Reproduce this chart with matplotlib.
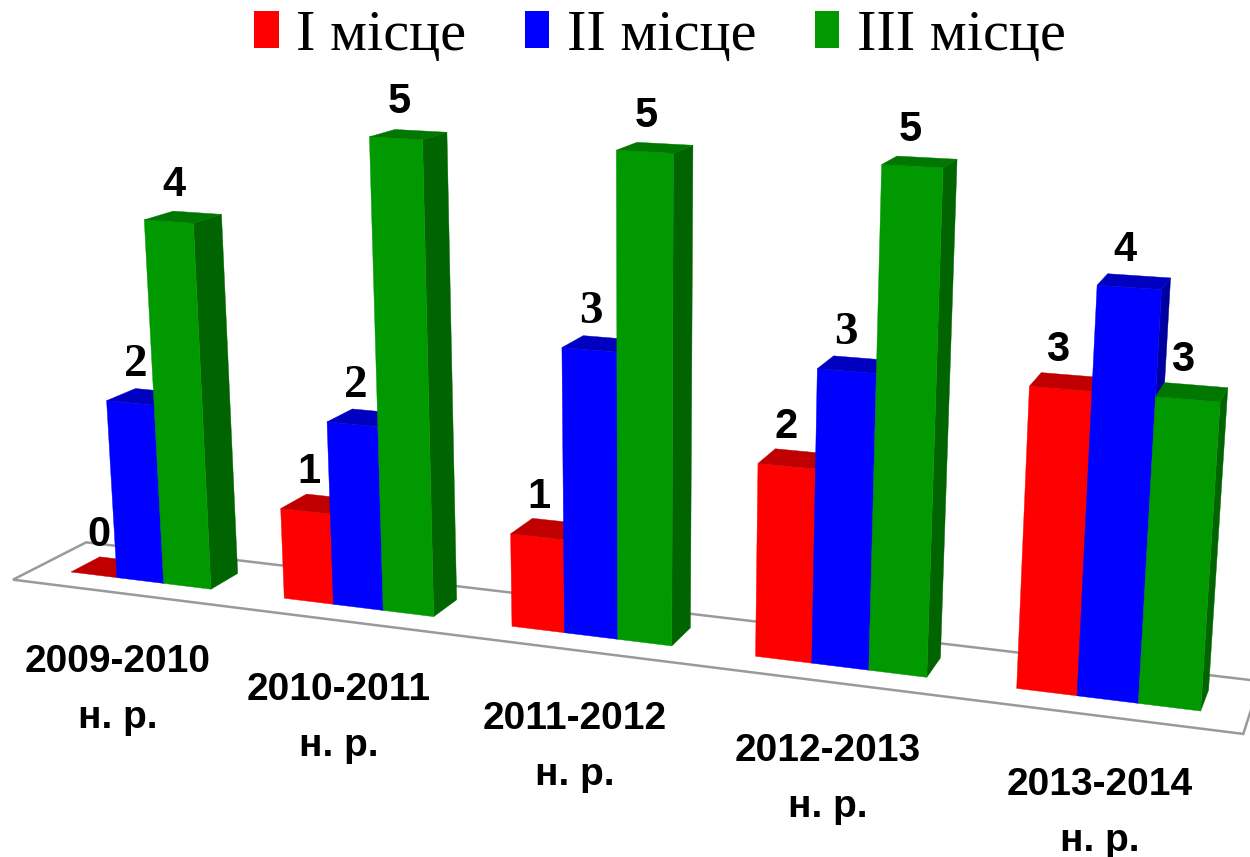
import numpy as np
import matplotlib
matplotlib.use('Agg')
import matplotlib.pyplot as plt
from matplotlib.patches import Polygon, Patch

# ---------------- data ----------------
categories = ['2009-2010\nн. р.', '2010-2011\nн. р.', '2011-2012\nн. р.',
              '2012-2013\nн. р.', '2013-2014\nн. р.']
series_names = ['I місце', 'II місце', 'III місце']
first_place = [0, 1, 1, 2, 3]
second_place = [2, 2, 3, 3, 4]
third_place = [4, 5, 5, 5, 3]
series_values = [first_place, second_place, third_place]

# ---------------- style ----------------
# (front, top, side) face colours for each series
face_colors = [('#FF0000', '#C00000', '#A00000'),
               ('#0000FF', '#0000C0', '#0000A0'),
               ('#009900', '#007700', '#006400')]
legend_colors = ['#FF0000', '#0000FF', '#009900']
# serif (Times-like) value labels as in the original
serif_label = [[False] * 5,
               [True, True, True, True, False],
               [False] * 5]

# ---------------- 3-D layout (camera fitted to the original view) ----------------
GROUP_STEP = 4.52      # distance between group starts, in bar widths
BAR_DEPTH = 1.0
FLOOR_X = (-0.76, 4 * GROUP_STEP + 3 + 0.76)
FLOOR_Y = (-0.77, 1.72)
CAM = np.array([[45.2156, 30.8375, -6.16777, 70.9434],
                [1.63584, -4.01972, -91.7308, 571.983],
                [-0.00697695, 0.0199674, -0.00959105, 1.0]])


def proj(x, y, z):
    q = CAM @ np.array([x, y, z, 1.0])
    return (q[0] / q[2], q[1] / q[2])


fig = plt.figure(figsize=(12.5, 8.57), dpi=100)
ax = fig.add_axes([0, 0, 1, 1])
ax.set_xlim(0, 1250)
ax.set_ylim(857, 0)
ax.axis('off')

# floor
fx0, fx1 = FLOOR_X
fy0, fy1 = FLOOR_Y
ax.add_patch(Polygon([proj(fx0, fy0, 0), proj(fx1, fy0, 0), proj(fx1, fy1, 0), proj(fx0, fy1, 0)],
                     closed=True, fc='white', ec='#9a9a9a', lw=1.8, zorder=1))

# bars (drawn from far/left to near/right)
z = 2
for i in range(len(categories)):
    for j, vals in enumerate(series_values):
        h = vals[i]
        x0 = i * GROUP_STEP + j
        x1 = x0 + 1
        fc, tc, sc = face_colors[j]
        if h > 0:
            ax.add_patch(Polygon([proj(x1, 0, 0), proj(x1, BAR_DEPTH, 0), proj(x1, BAR_DEPTH, h), proj(x1, 0, h)],
                                 fc=sc, ec=sc, lw=0.3, zorder=z))
            ax.add_patch(Polygon([proj(x0, 0, 0), proj(x1, 0, 0), proj(x1, 0, h), proj(x0, 0, h)],
                                 fc=fc, ec=fc, lw=0.3, zorder=z))
        ax.add_patch(Polygon([proj(x0, 0, h), proj(x1, 0, h), proj(x1, BAR_DEPTH, h), proj(x0, BAR_DEPTH, h)],
                             fc=tc, ec=tc, lw=0.3, zorder=z))
        z += 1

# value labels
for i in range(len(categories)):
    for j, vals in enumerate(series_values):
        h = vals[i]
        x0 = i * GROUP_STEP + j
        anchor = proj(x0 + 0.5, BAR_DEPTH / 2, h)
        if serif_label[j][i]:
            kw = dict(family='Liberation Serif', fontsize=34, fontweight='bold')
        else:
            kw = dict(family='Liberation Sans', fontsize=30, fontweight='bold')
        ax.annotate(str(h), xy=anchor, xytext=(-9, 32), textcoords='offset pixels',
                    ha='center', va='center', color='black', zorder=100, **kw)

# category labels
for i, cat in enumerate(categories):
    anchor = proj(i * GROUP_STEP + 1.5, fy0, 0)
    year, rest = cat.split('\n')
    ax.annotate(year, xy=anchor, xytext=(0, -69), textcoords='offset pixels',
                ha='center', va='center', family='Liberation Sans', fontsize=28,
                fontweight='bold', zorder=100)
    ax.annotate(rest, xy=anchor, xytext=(0, -125), textcoords='offset pixels',
                ha='center', va='center', family='Liberation Sans', fontsize=28,
                fontweight='bold', zorder=100)

# legend
handles = [Patch(facecolor=c, edgecolor='none') for c in legend_colors]
fig.legend(handles, series_names, loc='upper center', bbox_to_anchor=(0.528, 1.05),
           ncol=3, frameon=False, prop={'family': 'Liberation Serif', 'size': 42},
           handlelength=0.42, handleheight=0.6, handletextpad=0.3, columnspacing=1.0)

fig.savefig('out.png', dpi=100)
